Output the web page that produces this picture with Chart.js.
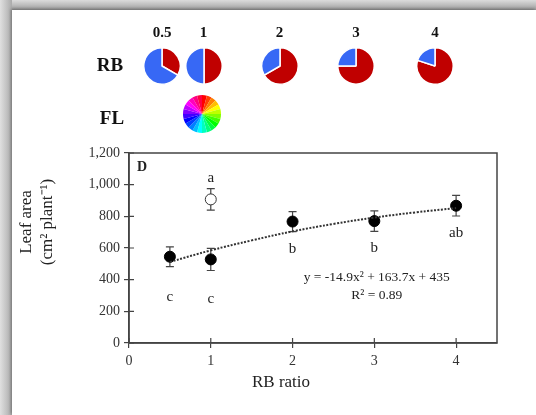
<!DOCTYPE html>
<html>
<head>
<meta charset="utf-8">
<script src="https://cdn.jsdelivr.net/npm/chart.js@4.4.1/dist/chart.umd.min.js"></script>
<style>
  html, body { margin: 0; padding: 0; }
  body { width: 536px; height: 415px; position: relative; overflow: hidden;
         background: linear-gradient(to bottom, #dcdcdc, #9e9e9e 10px, #fff 10px); }
  #leftband { position: absolute; left: 0; top: 0; width: 12px; height: 415px;
              background: linear-gradient(to right, #e0e0e0, #aaaaaa); }
  #panel { position: absolute; left: 12px; top: 10px; width: 524px; height: 405px; background: #fff;
           box-shadow: -1px -1px 3px rgba(0,0,0,0.35); }
  canvas { position: absolute; }
  .lbl { position: absolute; font-family: "Liberation Serif", serif; font-weight: bold; color: #111;
         transform: translate(-50%, -50%); white-space: nowrap; }
</style>
</head>
<body>
<div id="leftband"></div>
<div id="panel"></div>
<canvas id="main" width="536" height="415" style="left:0;top:0"></canvas>
<div class="lbl" style="left:110px;top:65px;font-size:19px">RB</div>
<div class="lbl" style="left:112px;top:118px;font-size:19px">FL</div>
<div id="pies"></div>
<script>
// RB treatments
const rbRatios = [0.5, 1, 2, 3, 4];
const rbLabels = ['0.5', '1', '2', '3', '4'];
const redShare = [1, 1, 2, 3, 4];
const blueShare = [2, 1, 1, 1, 1];
const leafArea = [545, 528, 767, 770, 867];
const leafAreaErr = [62, 70, 63, 65, 65];
const rbLetters = ['c', 'c', 'b', 'b', 'ab'];
const rbLetterY = [292, 278, 594, 600, 695];

// FL treatment
const flRatio = [1];
const flArea = [907];
const flErr = [68];
const flLetters = ['a'];
const flLetterY = [1044];

// fitted curve
const trendX = [0.5, 1, 1.5, 2, 2.5, 3, 3.5, 4];
const trendY = [512, 585, 648, 705, 752, 792, 825, 852];

const xTicks = [0, 1, 2, 3, 4];

const pieX = [162, 203.5, 279.5, 356, 435];
const pieY = 66;
const RED = '#c00000';
const BLUE = '#3768f5';
const serif = '"Liberation Serif", "Times New Roman", serif';

// small RB pies
const piesDiv = document.getElementById('pies');
rbRatios.forEach((r, i) => {
  const c = document.createElement('canvas');
  c.width = 40; c.height = 40;
  c.style.left = (pieX[i] - 20) + 'px';
  c.style.top = (pieY - 20) + 'px';
  piesDiv.appendChild(c);
  const t = document.createElement('div');
  t.className = 'lbl';
  t.style.left = pieX[i] + 'px';
  t.style.top = '32px';
  t.style.fontSize = '15px';
  t.textContent = rbLabels[i];
  piesDiv.appendChild(t);
  new Chart(c.getContext('2d'), {
    type: 'pie',
    data: { datasets: [{ data: [redShare[i], blueShare[i]], backgroundColor: [RED, BLUE], borderColor: '#fff', borderWidth: 1.5 }] },
    options: { responsive: false, animation: false, layout: { padding: 1 },
               plugins: { legend: { display: false }, tooltip: { enabled: false } } }
  });
});

// FL colour wheel
const wheelHues = [0, 15, 30, 45, 60, 75, 90, 105, 120, 135, 150, 165, 180, 195, 210, 225, 240, 255, 270, 285, 300, 315, 330, 345];
const wc = document.createElement('canvas');
wc.width = 40; wc.height = 40;
wc.style.left = (201.5 - 20) + 'px';
wc.style.top = (113.5 - 20) + 'px';
piesDiv.appendChild(wc);
new Chart(wc.getContext('2d'), {
  type: 'pie',
  data: { datasets: [{ data: wheelHues.map(() => 1), backgroundColor: wheelHues.map(h => `hsl(${h},100%,50%)`), borderWidth: 0 }] },
  options: { responsive: false, animation: false, layout: { padding: 1 },
             plugins: { legend: { display: false }, tooltip: { enabled: false } } }
});

const extras = {
  id: 'extras',
  beforeDatasetsDraw(chart) {
    const { ctx, scales: { x, y } } = chart;
    ctx.save();
    ctx.strokeStyle = '#444';
    ctx.lineWidth = 1.2;
    const bar = (xv, yv, e) => {
      const px = x.getPixelForValue(xv);
      const t = y.getPixelForValue(yv + e), b = y.getPixelForValue(yv - e);
      ctx.beginPath();
      ctx.moveTo(px, t); ctx.lineTo(px, b);
      ctx.moveTo(px - 4, t); ctx.lineTo(px + 4, t);
      ctx.moveTo(px - 4, b); ctx.lineTo(px + 4, b);
      ctx.stroke();
    };
    rbRatios.forEach((r, i) => bar(r, leafArea[i], leafAreaErr[i]));
    flRatio.forEach((r, i) => bar(r, flArea[i], flErr[i]));
    ctx.restore();
  },
  afterDraw(chart) {
    const { ctx, chartArea: a, scales: { x, y } } = chart;
    ctx.save();
    ctx.strokeStyle = '#444';
    ctx.lineWidth = 1.5;
    ctx.strokeRect(a.left, a.top, a.right - a.left, a.bottom - a.top);

    // inner half of the crossing tick marks
    ctx.lineWidth = 1.2;
    ctx.beginPath();
    x.ticks.forEach(t => { const px = x.getPixelForValue(t.value); ctx.moveTo(px, a.bottom); ctx.lineTo(px, a.bottom - 5); });
    y.ticks.forEach(t => { const py = y.getPixelForValue(t.value); ctx.moveTo(a.left, py); ctx.lineTo(a.left + 5, py); });
    ctx.stroke();

    ctx.fillStyle = '#222';
    ctx.textAlign = 'center';
    ctx.textBaseline = 'middle';
    ctx.font = '15px ' + serif;
    rbRatios.forEach((r, i) => ctx.fillText(rbLetters[i], x.getPixelForValue(r), y.getPixelForValue(rbLetterY[i])));
    flRatio.forEach((r, i) => ctx.fillText(flLetters[i], x.getPixelForValue(r), y.getPixelForValue(flLetterY[i])));

    ctx.font = '13.5px ' + serif;
    ctx.fillText('y = -14.9x² + 163.7x + 435', x.getPixelForValue(3.03), y.getPixelForValue(417));
    ctx.fillText('R² = 0.89', x.getPixelForValue(3.03), y.getPixelForValue(303));

    ctx.font = 'bold 14px ' + serif;
    ctx.textAlign = 'left';
    ctx.fillText('D', a.left + 8, a.top + 14);

    // axis titles
    ctx.textAlign = 'center';
    ctx.font = '17px ' + serif;
    ctx.fillText('RB ratio', 281, 383);
    ctx.translate(37, 222);
    ctx.rotate(-Math.PI / 2);
    ctx.fillText('Leaf area', 0, -10);
    ctx.fillText('(cm² plant⁻¹)', 0, 11);
    ctx.restore();
  }
};

const tickFont = { family: serif, size: 14 };

new Chart(document.getElementById('main').getContext('2d'), {
  type: 'scatter',
  data: {
    datasets: [
      {
        type: 'line',
        data: trendX.map((v, i) => ({ x: v, y: trendY[i] })),
        borderColor: '#333',
        borderWidth: 2,
        borderDash: [2, 1.5],
        pointRadius: 0,
        tension: 0.4,
        fill: false
      },
      {
        data: rbRatios.map((v, i) => ({ x: v, y: leafArea[i] })),
        backgroundColor: '#000',
        borderColor: '#000',
        pointRadius: 5.5
      },
      {
        data: flRatio.map((v, i) => ({ x: v, y: flArea[i] })),
        backgroundColor: '#fff',
        borderColor: '#333',
        borderWidth: 1,
        pointRadius: 5.5
      }
    ]
  },
  options: {
    responsive: false,
    animation: false,
    layout: { padding: { left: 0, top: 153, right: 39, bottom: 0 } },
    plugins: { legend: { display: false }, tooltip: { enabled: false } },
    scales: {
      x: {
        type: 'linear',
        min: 0,
        max: 4.5,
        afterBuildTicks: (s) => { s.ticks = xTicks.map(v => ({ value: v })); },
        afterFit: (s) => { s.height = 72; },
        ticks: { font: tickFont, color: '#333', padding: 5 },
        grid: { drawOnChartArea: false, tickLength: 5, color: '#444', lineWidth: 1.2 },
        border: { color: '#444', width: 1.5 }
      },
      y: {
        min: 0,
        max: 1200,
        afterFit: (s) => { s.width = 129; },
        ticks: { stepSize: 200, font: tickFont, color: '#333', padding: 4 },
        grid: { drawOnChartArea: false, tickLength: 5, color: '#444', lineWidth: 1.2 },
        border: { color: '#444', width: 1.5 }
      }
    }
  },
  plugins: [extras]
});
</script>
</body>
</html>
